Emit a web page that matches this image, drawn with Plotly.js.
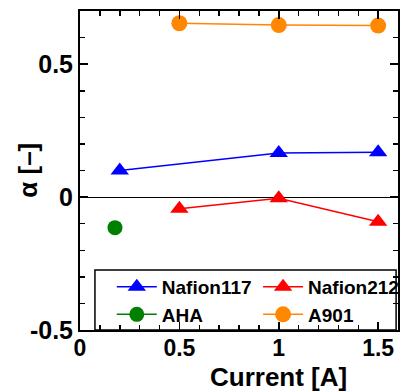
<!DOCTYPE html>
<html>
<head>
<meta charset="utf-8">
<script src="https://cdn.plot.ly/plotly-3.0.1.min.js"></script>
<style>html,body{margin:0;padding:0;background:#fff}#plot{width:406px;height:392px}</style>
</head>
<body>
<div id="plot"></div>
<script>
// Data
const nafion117X = [0.2, 1.0, 1.5];
const nafion117Y = [0.100, 0.166, 0.169];
const nafion212X = [0.5, 1.0, 1.5];
const nafion212Y = [-0.044, -0.004, -0.093];
const ahaX = [0.176];
const ahaY = [-0.115];
const a901X = [0.5, 1.0, 1.5];
const a901Y = [0.654, 0.647, 0.645];

const xTickVals = [0, 0.5, 1, 1.5];
const xTickText = ['0', '0.5', '1', '1.5'];
const yTickVals = [-0.5, 0, 0.5];
const yTickText = ['-0.5', '0', '0.5'];

const font = 'Liberation Sans, Arial, sans-serif';

const traces = [
  {name: 'Nafion117', x: nafion117X, y: nafion117Y, mode: 'lines+markers',
   line: {color: '#0000ff', width: 1.5}, marker: {symbol: 'triangle-up', size: 16, color: '#0000ff'}, legend: 'legend'},
  {name: 'AHA', x: ahaX, y: ahaY, mode: 'lines+markers',
   line: {color: '#008000', width: 1.5}, marker: {symbol: 'circle', size: 15, color: '#008000'}, legend: 'legend'},
  {name: 'Nafion212', x: nafion212X, y: nafion212Y, mode: 'lines+markers',
   line: {color: '#ff0000', width: 1.5}, marker: {symbol: 'triangle-up', size: 16, color: '#ff0000'}, legend: 'legend2'},
  {name: 'A901', x: a901X, y: a901Y, mode: 'lines+markers',
   line: {color: '#ff8800', width: 1.5}, marker: {symbol: 'circle', size: 16, color: '#ff8800'}, legend: 'legend2'}
];

const axisCommon = {
  showline: true, linecolor: '#000', linewidth: 2, mirror: 'allticks',
  ticks: 'inside', ticklen: 8, tickwidth: 1.5, tickcolor: '#000',
  showgrid: false, tickmode: 'array', automargin: false,
  tickfont: {family: font, size: 25, color: '#000', weight: 'bold'},
  minor: {ticks: 'inside', ticklen: 5, tickwidth: 1.5, tickcolor: '#000', dtick: 0.1, showgrid: false}
};

const legendFont = {family: font, size: 19, color: '#000', weight: 'bold'};

const layout = {
  width: 406, height: 392,
  margin: {l: 80, r: 8, t: 11, b: 62, autoexpand: false},
  paper_bgcolor: '#fff', plot_bgcolor: '#fff',
  showlegend: true,
  xaxis: Object.assign({}, axisCommon, {
    range: [0, 1.6], tickvals: xTickVals, ticktext: xTickText, zeroline: false,
    ticklabelstandoff: -4,
    tickfont: {family: font, size: 23, color: '#000', weight: 'bold'}
  }),
  yaxis: Object.assign({}, axisCommon, {
    range: [-0.5, 0.7], tickvals: yTickVals, ticktext: yTickText,
    zeroline: true, zerolinecolor: '#000', zerolinewidth: 1
  }),
  legend: {x: 0.1, xanchor: 'left', y: 0.195, yanchor: 'top', bgcolor: 'rgba(0,0,0,0)', borderwidth: 0,
           itemwidth: 40, tracegroupgap: 0, font: legendFont},
  legend2: {x: 0.56, xanchor: 'left', y: 0.195, yanchor: 'top', bgcolor: 'rgba(0,0,0,0)', borderwidth: 0,
           itemwidth: 40, tracegroupgap: 0, font: legendFont},
  shapes: [{type: 'rect', xref: 'paper', yref: 'paper', x0: 0.047, x1: 0.994, y0: 0.0, y1: 0.188,
            line: {color: '#000', width: 1.5}, fillcolor: '#fff', layer: 'below'}],
  annotations: [
    {text: 'Current [A]', xref: 'paper', yref: 'paper', x: 0.625, y: -0.148,
     xanchor: 'center', yanchor: 'middle', showarrow: false,
     font: {family: font, size: 26, color: '#000', weight: 'bold'}},
    {text: 'α [–]', xref: 'paper', yref: 'paper', x: -0.166, y: 0.5, textangle: -90,
     xanchor: 'center', yanchor: 'middle', showarrow: false,
     font: {family: font, size: 26, color: '#000', weight: 'bold'}}
  ]
};

Plotly.newPlot('plot', traces, layout, {displayModeBar: false, staticPlot: true});
</script>
</body>
</html>
